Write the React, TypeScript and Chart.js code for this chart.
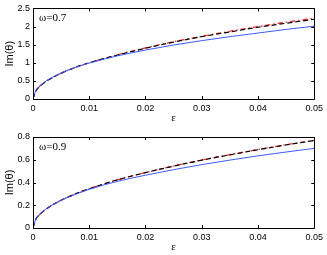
import React, { useEffect, useRef } from "react";
import { Chart, registerables } from "chart.js";

Chart.register(...registerables);

const epsValues = [0, 0.0005, 0.001, 0.002, 0.003, 0.005, 0.0075, 0.01, 0.015, 0.02, 0.025, 0.03, 0.035, 0.04, 0.045, 0.05];

// omega = 0.7
const topBlack = [0, 0.22, 0.32, 0.45, 0.55, 0.71, 0.87, 1.0, 1.21, 1.4, 1.57, 1.72, 1.85, 1.98, 2.09, 2.2];
const topRed = [0, 0.22, 0.32, 0.45, 0.55, 0.71, 0.87, 1.0, 1.22, 1.41, 1.58, 1.73, 1.87, 2.0, 2.12, 2.23];
const topBlue = [0, 0.23, 0.33, 0.46, 0.56, 0.72, 0.87, 0.99, 1.19, 1.35, 1.49, 1.61, 1.72, 1.82, 1.92, 2.01];

// omega = 0.9
const botBlack = [0, 0.077, 0.109, 0.154, 0.189, 0.244, 0.299, 0.345, 0.423, 0.487, 0.544, 0.596, 0.643, 0.688, 0.73, 0.769];
const botRed = [0, 0.077, 0.109, 0.154, 0.189, 0.244, 0.299, 0.345, 0.423, 0.488, 0.545, 0.598, 0.645, 0.69, 0.732, 0.771];
const botBlue = [0, 0.078, 0.11, 0.155, 0.19, 0.243, 0.295, 0.34, 0.41, 0.464, 0.513, 0.557, 0.597, 0.634, 0.668, 0.7];

const xTicks = [0, 0.01, 0.02, 0.03, 0.04, 0.05];
const topYTicks = [0, 0.5, 1, 1.5, 2, 2.5];
const botYTicks = [0, 0.2, 0.4, 0.6, 0.8];

const SANS = "'Liberation Sans', Arial, sans-serif";
const SERIF = "'Liberation Serif', 'Times New Roman', serif";

function makeChart(
  canvas: HTMLCanvasElement,
  black: number[],
  red: number[],
  blue: number[],
  yTicks: number[],
  label: string,
  padTop: number,
  xAxisH: number
) {
  const pts = (arr: number[]) => epsValues.map((x, i) => ({ x, y: arr[i] }));
  const boxPlugin = {
    id: "box",
    afterDraw(chart: any) {
      const ctx = chart.ctx;
      const a = chart.chartArea;
      const xs = chart.scales.x;
      const ys = chart.scales.y;
      ctx.save();
      ctx.strokeStyle = "#000";
      ctx.lineWidth = 1;
      ctx.beginPath();
      ctx.rect(Math.round(a.left) + 0.5, Math.round(a.top) + 0.5, Math.round(a.right - a.left), Math.round(a.bottom - a.top));
      ctx.stroke();
      const tl = 3;
      ctx.beginPath();
      xTicks.forEach((v) => {
        const px = Math.round(xs.getPixelForValue(v)) + 0.5;
        ctx.moveTo(px, a.bottom);
        ctx.lineTo(px, a.bottom - tl);
        ctx.moveTo(px, a.top);
        ctx.lineTo(px, a.top + tl);
      });
      yTicks.forEach((v) => {
        const py = Math.round(ys.getPixelForValue(v)) + 0.5;
        ctx.moveTo(a.left, py);
        ctx.lineTo(a.left + tl, py);
        ctx.moveTo(a.right, py);
        ctx.lineTo(a.right - tl, py);
      });
      ctx.stroke();
      // texts
      ctx.fillStyle = "#000";
      ctx.font = `11px ${SERIF}`;
      ctx.textAlign = "left";
      ctx.textBaseline = "middle";
      ctx.fillText(label, a.left + 6, a.top + 10);
      ctx.font = `11px ${SERIF}`;
      ctx.textAlign = "center";
      ctx.fillText("ε", (a.left + a.right) / 2, a.bottom + 19);
      ctx.save();
      ctx.translate(10, (a.top + a.bottom) / 2);
      ctx.rotate(-Math.PI / 2);
      ctx.font = `11px ${SANS}`;
      ctx.fillText("Im(θ)", 0, 0);
      ctx.restore();
      ctx.restore();
    },
  };

  return new Chart(canvas, {
    type: "line",
    data: {
      datasets: [
        {
          data: pts(blue),
          borderColor: "#3b5bff",
          borderWidth: 1,
          pointRadius: 0,
          tension: 0.4,
          cubicInterpolationMode: "monotone",
        },
        {
          data: pts(black),
          borderColor: "#000000",
          borderWidth: 1.2,
          borderDash: [5, 3],
          pointRadius: 0,
          cubicInterpolationMode: "monotone",
        },
        {
          data: pts(red),
          borderColor: "#ff2020",
          borderWidth: 1.2,
          borderDash: [5, 3, 1.5, 3],
          pointRadius: 0,
          cubicInterpolationMode: "monotone",
        },
      ],
    },
    options: {
      animation: false,
      responsive: false,
      maintainAspectRatio: false,
      layout: { padding: { top: padTop, right: 12, left: 0, bottom: 0 } },
      plugins: { legend: { display: false }, tooltip: { enabled: false } },
      scales: {
        x: {
          type: "linear",
          min: 0,
          max: 0.05,
          border: { display: false },
          grid: { display: false, drawTicks: false },
          afterBuildTicks: (s: any) => {
            s.ticks = xTicks.map((v) => ({ value: v }));
          },
          afterFit: (s: any) => {
            s.height = xAxisH;
          },
          ticks: {
            padding: 4,
            color: "#000",
            font: { family: SANS, size: 9 },
            maxRotation: 0,
            callback: (v: any) => String(v),
          },
        },
        y: {
          type: "linear",
          min: 0,
          max: yTicks[yTicks.length - 1],
          border: { display: false },
          grid: { display: false, drawTicks: false },
          afterBuildTicks: (s: any) => {
            s.ticks = yTicks.map((v) => ({ value: v }));
          },
          afterFit: (s: any) => {
            s.width = 33;
          },
          ticks: {
            padding: 3,
            color: "#000",
            font: { family: SANS, size: 9 },
            callback: (v: any) => String(v),
          },
        },
      },
    },
    plugins: [boxPlugin],
  } as any);
}

export default function App() {
  const topRef = useRef<HTMLCanvasElement>(null);
  const botRef = useRef<HTMLCanvasElement>(null);
  useEffect(() => {
    const c1 = makeChart(topRef.current!, topBlack, topRed, topBlue, topYTicks, "ω=0.7", 7, 28);
    const c2 = makeChart(botRef.current!, botBlack, botRed, botBlue, botYTicks, "ω=0.9", 10, 27);
    return () => {
      c1.destroy();
      c2.destroy();
    };
  }, []);
  return (
    <div style={{ position: "absolute", left: 0, top: 0, width: 327, height: 255, background: "#fff" }}>
      <canvas ref={topRef} width={327} height={127} style={{ display: "block", width: 327, height: 127 }} />
      <canvas ref={botRef} width={327} height={128} style={{ display: "block", width: 327, height: 128 }} />
    </div>
  );
}
